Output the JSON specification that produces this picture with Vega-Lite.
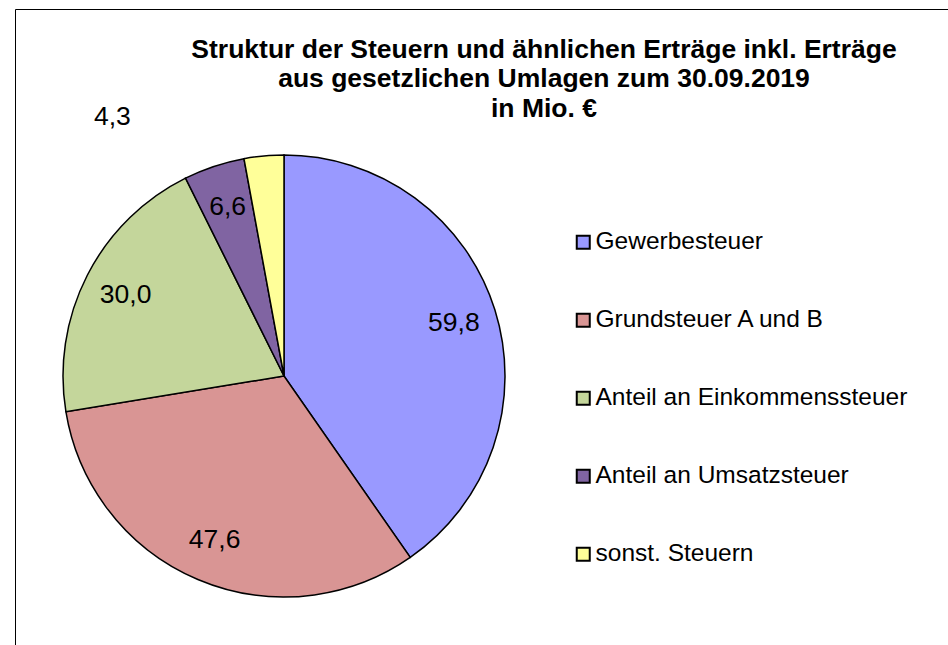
{
  "$schema": "https://vega.github.io/schema/vega-lite/v6.json",
  "width": 1000,
  "height": 700,
  "autosize": {"type": "none"},
  "padding": {"left": 15, "top": 9, "right": 0, "bottom": 0},
  "background": "white",
  "view": {"stroke": "#000000", "strokeWidth": 1, "fill": "white"},
  "config": {
    "view": {"stroke": "#000000", "strokeWidth": 1},
    "font": "Liberation Sans",
    "locale": {"number": {"decimal": ",", "thousands": ".", "grouping": [3], "currency": ["", " €"]}},
    "legend": {
      "orient": "none",
      "legendX": 556,
      "legendY": 221,
      "symbolType": "square",
      "symbolSize": 169,
      "symbolStrokeColor": "#000000",
      "symbolStrokeWidth": 2,
      "symbolOpacity": 1,
      "labelFont": "Liberation Sans",
      "labelFontSize": 24.5,
      "labelColor": "#000000",
      "labelOffset": 0,
      "rowPadding": 53,
      "labelLimit": 400
    }
  },
  "title": {
    "text": ["Struktur der Steuern und ähnlichen Erträge inkl. Erträge", "aus gesetzlichen Umlagen zum 30.09.2019", "in Mio. €"],
    "font": "Liberation Sans",
    "fontWeight": "bold",
    "fontSize": 26.5,
    "lineHeight": 29.5,
    "color": "#000000",
    "anchor": "middle",
    "frame": "group",
    "dx": 29,
    "offset": -113
  },
  "data": {
    "values": [
      {"rank": 1, "kategorie": "Gewerbesteuer", "wert": 59.8},
      {"rank": 2, "kategorie": "Grundsteuer A und B", "wert": 47.6},
      {"rank": 3, "kategorie": "Anteil an Einkommenssteuer", "wert": 30.0},
      {"rank": 4, "kategorie": "Anteil an Umsatzsteuer", "wert": 6.6},
      {"rank": 5, "kategorie": "sonst. Steuern", "wert": 4.3}
    ]
  },
  "encoding": {
    "theta": {"field": "wert", "type": "quantitative", "stack": true},
    "order": {"field": "rank", "type": "quantitative"}
  },
  "layer": [
    {
      "mark": {"type": "arc", "x": 269, "y": 367, "outerRadius": 221, "stroke": "#000000", "strokeWidth": 1.5},
      "encoding": {
        "color": {
          "field": "kategorie",
          "type": "nominal",
          "sort": ["Gewerbesteuer", "Grundsteuer A und B", "Anteil an Einkommenssteuer", "Anteil an Umsatzsteuer", "sonst. Steuern"],
          "scale": {
            "domain": ["Gewerbesteuer", "Grundsteuer A und B", "Anteil an Einkommenssteuer", "Anteil an Umsatzsteuer", "sonst. Steuern"],
            "range": ["#9999FF", "#D99594", "#C4D69B", "#8064A2", "#FFFF99"]
          },
          "legend": {"title": null}
        }
      }
    },
    {
      "mark": {"type": "text", "x": 269, "y": 367, "radius": 178, "font": "Liberation Sans", "fontSize": 26.5, "color": "#000000"},
      "encoding": {
        "text": {"condition": {"test": "datum.rank == 5", "value": ""}, "field": "wert", "type": "quantitative", "format": ".1f"}
      }
    },
    {
      "mark": {"type": "text", "x": 269, "y": 367, "radius": 260, "dx": -148, "font": "Liberation Sans", "fontSize": 26.5, "color": "#000000"},
      "encoding": {
        "text": {"condition": {"test": "datum.rank != 5", "value": ""}, "field": "wert", "type": "quantitative", "format": ".1f"}
      }
    }
  ]
}
